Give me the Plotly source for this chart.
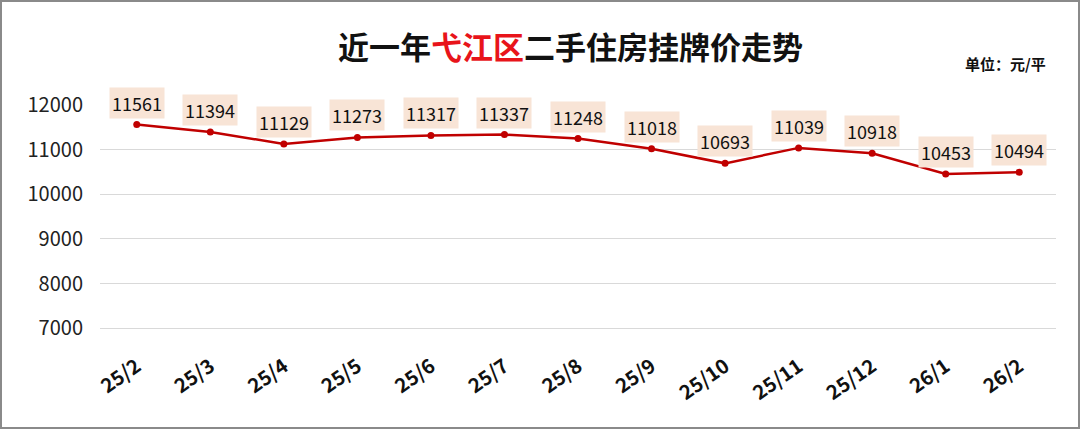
import plotly.graph_objects as go

months = ["25/2", "25/3", "25/4", "25/5", "25/6", "25/7", "25/8", "25/9", "25/10", "25/11", "25/12", "26/1", "26/2"]
prices = [11561, 11394, 11129, 11273, 11317, 11337, 11248, 11018, 10693, 11039, 10918, 10453, 10494]
y_ticks = [7000, 8000, 9000, 10000, 11000, 12000]

fig = go.Figure()
fig.add_trace(go.Scatter(
    x=months, y=prices, mode="lines+markers",
    line=dict(color="#c00000", width=2.5),
    marker=dict(color="#c00000", size=7),
    showlegend=False, hoverinfo="skip", cliponaxis=False,
))

for m, p in zip(months, prices):
    fig.add_annotation(
        x=m, y=p, text=str(p), showarrow=False, yshift=22,
        font=dict(family="Noto Sans CJK SC", size=18, color="#111111"),
        bgcolor="#f8e4d6", borderpad=2,
    )

fig.add_annotation(
    xref="paper", yref="paper", x=(570-100)/956, y=1.0, yshift=60, xanchor="center", yanchor="middle",
    text="近一年<span style='color:#e8141a'>弋江区</span>二手住房挂牌价走势",
    showarrow=False,
    font=dict(family="Noto Sans CJK SC", size=31, color="#111111", weight="bold"),
)
fig.add_annotation(
    xref="paper", yref="paper", x=(1048-100)/956, y=1.0, yshift=42, xanchor="right", yanchor="middle",
    text="单位：元/平", showarrow=False,
    font=dict(family="Noto Sans CJK SC", size=15, color="#111111", weight="bold"),
)

fig.update_layout(
    width=1080, height=429,
    paper_bgcolor="white", plot_bgcolor="white",
    margin=dict(l=100, r=24, t=105, b=99, autoexpand=False),
    xaxis=dict(
        type="category", range=[-0.5, 12.5], showgrid=False, showline=False,
        ticks="outside", ticklen=16, tickcolor="rgba(0,0,0,0)",
        tickangle=-35, automargin=False,
        tickfont=dict(family="Noto Sans CJK SC", size=20, color="#111111", weight="bold"),
    ),
    yaxis=dict(
        range=[6960, 12000], tickvals=y_ticks, tickformat="d", showgrid=True, gridcolor="#d9d9d9", gridwidth=1,
        zeroline=False, showline=False, ticks="outside", ticklen=12, tickcolor="rgba(0,0,0,0)", automargin=False,
        tickfont=dict(family="Noto Sans CJK SC", size=20, color="#222222"),
    ),
)
fig.add_shape(type="rect", xref="paper", yref="paper",
              x0=-99/956, y0=-98/225, x1=1+23/956, y1=1+104/225,
              line=dict(color="#8a8a8a", width=2))

fig.write_html("out.html", config={"displayModeBar": False},
               post_script="document.body.style.margin='0';document.body.style.overflow='hidden';")
